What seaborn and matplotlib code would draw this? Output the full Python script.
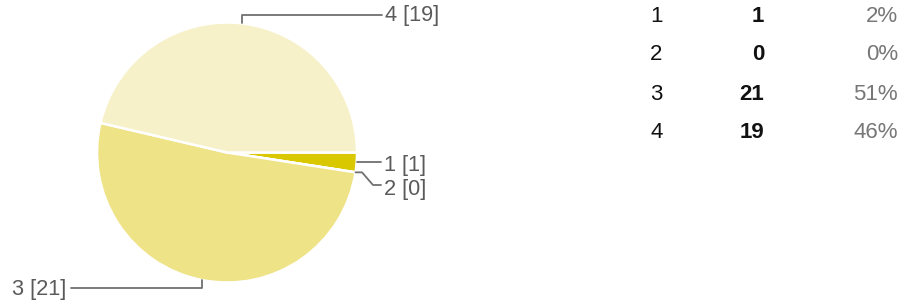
import numpy as np
import matplotlib
matplotlib.use("Agg")
import matplotlib.pyplot as plt
import seaborn as sns

categories = ["1", "2", "3", "4"]
counts = [1, 0, 21, 19]
percents = ["2%", "0%", "51%", "46%"]

sns.set_style("white")
plt.rcParams['font.family'] = ['Liberation Sans', 'DejaVu Sans']

W, H = 905, 304
fig = plt.figure(figsize=(W / 100, H / 100), dpi=100)
ax = fig.add_axes([0, 0, 1, 1])

def py(y):
    return H - y

colors = ["#D9C700", "#E8DC6A", "#EEE387", "#F7F1CA"]
cx, cy, r = 227, py(152.5), 130
wedges, _ = ax.pie(counts, startangle=0, counterclock=False, colors=colors,
                   center=(cx, cy), radius=r, frame=True,
                   wedgeprops=dict(edgecolor="white", linewidth=1.8))
ax.set_xlim(0, W)
ax.set_ylim(0, H)
ax.set_aspect("equal")
ax.axis("off")

lc = "#707070"
tc = "#5a5a5a"
fs_lab = 15.7

def edge_pt(w):
    a = np.deg2rad((w.theta1 + w.theta2) / 2)
    return cx + r * np.cos(a), cy + r * np.sin(a)

# slice 4 (top)
x4, y4 = edge_pt(wedges[3])
ax.plot([x4, x4, 382], [y4, py(15), py(15)], color=lc, lw=1.3)
ax.text(385, py(16), f"{categories[3]} [{counts[3]}]", color=tc, fontsize=fs_lab,
        ha="left", va="center")

# slice 1
x1, y1 = edge_pt(wedges[0])
ax.plot([x1, 381], [y1, y1], color=lc, lw=1.3)
ax.text(384, py(165), f"{categories[0]} [{counts[0]}]", color=tc, fontsize=fs_lab,
        ha="left", va="center")

# slice 2
x2, y2 = edge_pt(wedges[1])
ax.plot([x2, 362, 373, 381], [y2, y2, py(185), py(185)], color=lc, lw=1.3)
ax.text(384, py(190), f"{categories[1]} [{counts[1]}]", color=tc, fontsize=fs_lab,
        ha="left", va="center")

# slice 3 (bottom)
x3, y3 = edge_pt(wedges[2])
ax.plot([x3, x3, 71], [y3, py(288), py(288)], color=lc, lw=1.3)
ax.text(66, py(290), f"{categories[2]} [{counts[2]}]", color=tc, fontsize=fs_lab,
        ha="right", va="center")

# table
rows_y = [17, 55, 94, 132]
for cat, c, p, yy in zip(categories, counts, percents, rows_y):
    ax.text(650, py(yy), cat, fontsize=16, color="#111111", ha="left", va="center")
    ax.text(764, py(yy), str(c), fontsize=16, color="#111111", fontweight="bold",
            ha="right", va="center")
    ax.text(898, py(yy), p, fontsize=16, color="#777777", ha="right", va="center")

fig.savefig("out.png", dpi=100)
